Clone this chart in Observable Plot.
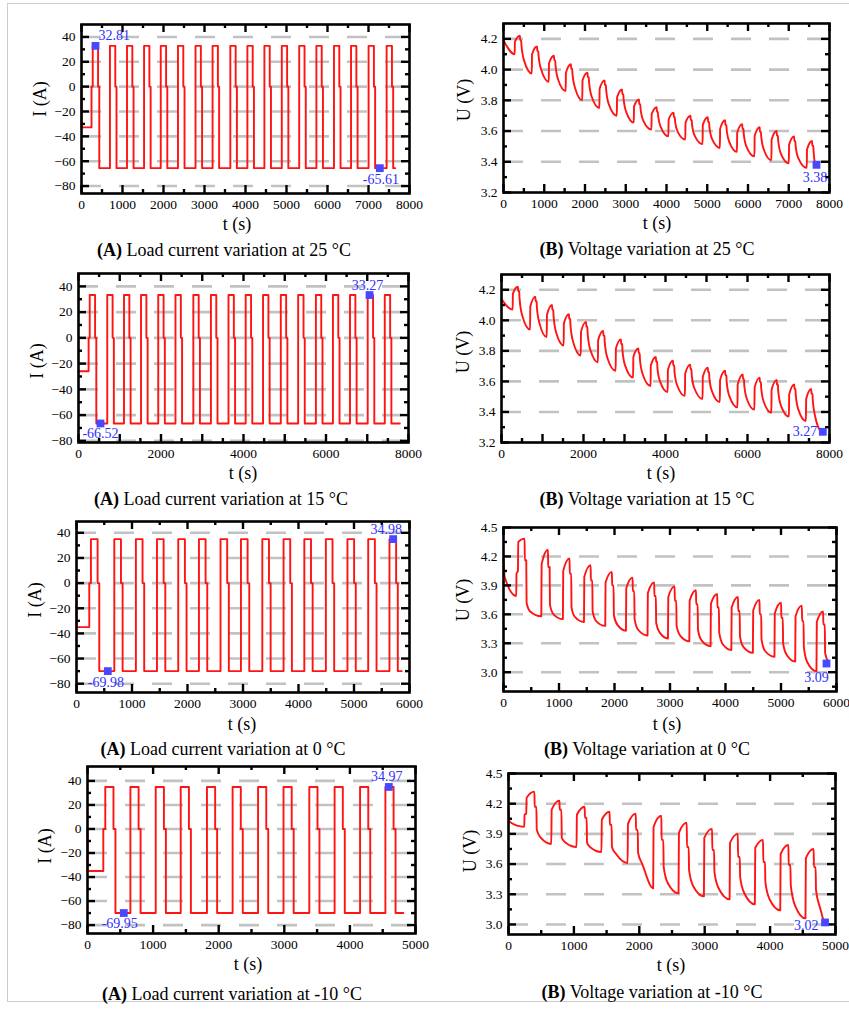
<!DOCTYPE html>
<html><head><meta charset="utf-8">
<script src="https://cdn.jsdelivr.net/npm/d3@7"></script>
<script src="https://cdn.jsdelivr.net/npm/@observablehq/plot@0.6"></script>
<style>
body{margin:0;background:#fff;}
#page{position:relative;width:849px;height:1012px;overflow:hidden;background:#fff;font-family:"Liberation Serif","Times New Roman",serif;}
#border{position:absolute;left:7px;top:3px;width:880px;height:999px;border:1.5px solid #cdcdcd;box-sizing:border-box;}
.t{position:absolute;white-space:nowrap;transform:translate(-50%,-50%);color:#000;line-height:1;}
.cap{font-size:18px;}
.ax{font-size:18px;}
.yl{transform:translate(-50%,-50%) rotate(-90deg);}
.panel{position:absolute;font-family:"Liberation Serif","Times New Roman",serif;}
.panel text{font-family:"Liberation Serif","Times New Roman",serif;}
</style></head>
<body><div id="page"><div id="border"></div></div>
<script>
// ---------------- data ----------------
const temps = ["25", "15", "0", "-10"];
const iCharge = [32.81, 33.27, 34.98, 34.97];
const iDischarge = [65.61, 66.52, 69.98, 69.95];
const chargeDur = [130, 130, 120, 125];
const restDur = [30, 30, 30, 30];
const endTime = [7650, 7790, 5860, 4815];

// cycle (charge pulse) start times, s
const cycles25 = [274, 694, 1110, 1526, 1933, 2353, 2781, 3197, 3630, 4046, 4461, 4885, 5310, 5729, 6158, 6574, 7002, 7442];
const cycles15 = [272, 697, 1103, 1516, 1933, 2351, 2784, 3210, 3636, 4053, 4474, 4904, 5325, 5755, 6168, 6582, 7011, 7425];
const cycles0 = [260, 681, 1070, 1450, 1833, 2206, 2595, 2963, 3348, 3731, 4105, 4493, 4882, 5256, 5639];
const cyclesM10 = [271, 654, 1040, 1421, 1821, 2212, 2600, 2988, 3381, 3767, 4155, 4541];

// initial part of the current profiles (time, current)
const iInitT25 = [0, 0, 244, 244], iInitV25 = [0, -32.8, -32.8, 0];
const iInitT15 = [0, 245, 245], iInitV15 = [-26, -26, 0];
const iInitT0 = [0, 0, 230, 230], iInitV0 = [0, -35, -35, 0];
const iInitTM10 = [0, 0, 241, 241], iInitVM10 = [0, -35, -35, 0];

// voltage: initial part (time, voltage)
const uInitT25 = [0], uInitV25 = [4.19];
const uInitT15 = [0], uInitV15 = [4.14];
const uInitT0 = [0, 20, 230, 234], uInitV0 = [4.18, 3.99, 3.79, 4.02];
const uInitTM10 = [0, 15, 241, 245], uInitVM10 = [4.17, 4.02, 3.97, 4.09];

// voltage per cycle: before charge, after charge step, end of charge, rest, after discharge step, early discharge
const vMin25 = [4.10, 3.975, 3.92, 3.86, 3.80, 3.75, 3.70, 3.655, 3.61, 3.565, 3.545, 3.515, 3.49, 3.465, 3.435, 3.41, 3.39, 3.36];
const vJump25 = [4.18, 4.10, 4.04, 3.98, 3.93, 3.875, 3.82, 3.76, 3.71, 3.675, 3.655, 3.64, 3.615, 3.59, 3.57, 3.545, 3.51, 3.48];
const vPeak25 = [4.22, 4.15, 4.09, 4.035, 3.98, 3.93, 3.87, 3.805, 3.755, 3.72, 3.70, 3.69, 3.67, 3.645, 3.625, 3.60, 3.565, 3.535];
const vRest25 = [4.19, 4.12, 4.06, 4.005, 3.95, 3.90, 3.84, 3.775, 3.725, 3.69, 3.67, 3.66, 3.64, 3.615, 3.595, 3.57, 3.535, 3.505];
const vDis25 = [4.16, 4.09, 4.03, 3.975, 3.92, 3.87, 3.81, 3.745, 3.695, 3.66, 3.64, 3.63, 3.61, 3.585, 3.565, 3.54, 3.505, 3.475];
const vKnee25 = [4.06, 4.00, 3.935, 3.88, 3.825, 3.775, 3.725, 3.67, 3.625, 3.595, 3.57, 3.55, 3.53, 3.50, 3.48, 3.455, 3.425, 3.42];
const vEnd25 = 3.38;

const vMin15 = [4.07, 3.94, 3.89, 3.835, 3.77, 3.725, 3.67, 3.625, 3.57, 3.53, 3.505, 3.485, 3.465, 3.43, 3.415, 3.395, 3.37, 3.34];
const vJump15 = [4.175, 4.09, 4.035, 3.98, 3.925, 3.87, 3.815, 3.76, 3.705, 3.675, 3.65, 3.63, 3.61, 3.58, 3.56, 3.545, 3.515, 3.485];
const vPeak15 = [4.22, 4.155, 4.10, 4.04, 3.99, 3.93, 3.875, 3.815, 3.76, 3.735, 3.71, 3.69, 3.67, 3.645, 3.625, 3.61, 3.58, 3.55];
const vRest15 = [4.19, 4.125, 4.07, 4.01, 3.96, 3.90, 3.845, 3.785, 3.73, 3.705, 3.68, 3.66, 3.64, 3.615, 3.595, 3.58, 3.55, 3.52];
const vDis15 = [4.15, 4.085, 4.03, 3.97, 3.92, 3.86, 3.805, 3.745, 3.69, 3.665, 3.64, 3.62, 3.60, 3.575, 3.555, 3.54, 3.51, 3.48];
const vKnee15 = [4.035, 3.98, 3.92, 3.86, 3.81, 3.755, 3.705, 3.65, 3.60, 3.575, 3.555, 3.535, 3.505, 3.485, 3.465, 3.445, 3.415, 3.365];
const vEnd15 = 3.27;

const vMin0 = [4.05, 3.58, 3.55, 3.52, 3.48, 3.43, 3.38, 3.35, 3.32, 3.27, 3.23, 3.20, 3.16, 3.11, 3.01];
const vJump0 = [4.35, 4.12, 4.05, 3.99, 3.93, 3.87, 3.82, 3.78, 3.74, 3.71, 3.67, 3.64, 3.61, 3.58, 3.52];
const vPeak0 = [4.385, 4.27, 4.18, 4.11, 4.04, 3.98, 3.93, 3.89, 3.85, 3.81, 3.78, 3.75, 3.72, 3.69, 3.63];
const vRest0 = [4.16, 4.09, 4.02, 3.95, 3.90, 3.84, 3.79, 3.74, 3.705, 3.67, 3.635, 3.60, 3.565, 3.53, 3.495];
const vDis0 = [3.72, 3.70, 3.67, 3.63, 3.59, 3.55, 3.51, 3.48, 3.44, 3.41, 3.37, 3.34, 3.30, 3.26, 3.20];
const vKnee0 = [3.63, 3.60, 3.57, 3.53, 3.49, 3.44, 3.41, 3.38, 3.33, 3.29, 3.26, 3.22, 3.18, 3.10, 3.13];
const vEnd0 = 3.10;

const vMinM10 = [4.10, 3.80, 3.77, 3.72, 3.61, 3.36, 3.31, 3.28, 3.25, 3.20, 3.14, 3.06];
const vJumpM10 = [4.26, 4.14, 4.09, 4.04, 4.00, 3.97, 3.91, 3.86, 3.81, 3.76, 3.70, 3.66];
const vPeakM10 = [4.32, 4.23, 4.17, 4.12, 4.10, 4.08, 4.01, 3.95, 3.90, 3.84, 3.79, 3.75];
const vRestM10 = [4.17, 4.14, 4.06, 3.99, 3.94, 3.84, 3.77, 3.74, 3.67, 3.62, 3.59, 3.57];
const vDisM10 = [3.94, 3.86, 3.81, 3.77, 3.71, 3.57, 3.54, 3.52, 3.47, 3.42, 3.39, 3.34];
const vKneeM10 = [3.86, 3.81, 3.76, 3.70, 3.60, 3.41, 3.38, 3.36, 3.31, 3.25, 3.19, 3.16];
const vEndM10 = 3.04;

// annotated points
const markI25 = [{t: 341, v: 32.81, s: "32.81"}, {t: 7276, v: -65.61, s: "-65.61"}];
const markI15 = [{t: 7055, v: 33.27, s: "33.27"}, {t: 533, v: -66.52, s: "-66.52"}];
const markI0 = [{t: 5706, v: 34.98, s: "34.98"}, {t: 564, v: -69.98, s: "-69.98"}];
const markIM10 = [{t: 4593, v: 34.97, s: "34.97"}, {t: 553, v: -69.95, s: "-69.95"}];
const markU25 = [{t: 7681, v: 3.38, s: "3.38"}];
const markU15 = [{t: 7837, v: 3.27, s: "3.27"}];
const markU0 = [{t: 5820, v: 3.09, s: "3.09"}];
const markUM10 = [{t: 4840, v: 3.02, s: "3.02"}];

// ticks
const iTicks = [-80, -60, -40, -20, 0, 20, 40];
const iMinor = [-70, -50, -30, -10, 10, 30];
const uTicksA = [3.2, 3.4, 3.6, 3.8, 4.0, 4.2];
const uMinorA = [3.3, 3.5, 3.7, 3.9, 4.1];
const uTicksB = [3.0, 3.3, 3.6, 3.9, 4.2, 4.5];
const uMinorB0 = [2.85, 3.15, 3.45, 3.75, 4.05, 4.35];
const uMinorB10 = [3.15, 3.45, 3.75, 4.05, 4.35];
const tLab8000 = [0, 1000, 2000, 3000, 4000, 5000, 6000, 7000, 8000];
const tLab8000b = [0, 2000, 4000, 6000, 8000];
const tLab6000 = [0, 1000, 2000, 3000, 4000, 5000, 6000];
const tLab5000 = [0, 1000, 2000, 3000, 4000, 5000];

// ---------------- builders ----------------
function currentPts(cyc, ich, idis, cd, rd, initT, initV, tEnd) {
  const pts = initT.map((t, i) => ({t, v: initV[i]}));
  cyc.forEach(t => {
    const last = pts[pts.length - 1].v;
    pts.push({t, v: last}, {t, v: ich}, {t: t + cd, v: ich}, {t: t + cd, v: 0},
             {t: t + cd + rd, v: 0}, {t: t + cd + rd, v: -idis});
  });
  pts.push({t: tEnd, v: -idis});
  return pts;
}
function voltagePts(cyc, cd, rd, initT, initV, a, tEnd, vEnd) {
  const pts = initT.map((t, i) => ({t, v: initV[i]}));
  cyc.forEach((t, k) => {
    [[t, a.min[k]], [t + 6, a.jump[k]], [t + cd, a.peak[k]], [t + cd + 4, a.rest[k]],
     [t + cd + rd, a.rest[k]], [t + cd + rd + 6, a.dis[k]], [t + cd + rd + 70, a.knee[k]]]
      .forEach(([tt, v]) => { if (tt < tEnd - 4) pts.push({t: tt, v}); });
  });
  pts.push({t: tEnd, v: vEnd});
  return pts;
}
function halves(ticks) {
  const out = [];
  for (let i = 0; i < ticks.length - 1; i++) out.push((ticks[i] + ticks[i + 1]) / 2);
  return out;
}

const FONT = '"Liberation Serif","Times New Roman",Times,serif';
const ML = 70, MR = 14, MT = 14, MB = 40;
const FS = 13.5;
const page = document.getElementById("page");

function panel(cfg, labels) {
  const {fx, fy, fw, fh, xdom, ydom, data, curve, xLab, xMajor, xMinor, yLab, yMajor, yMinor, grid, yfmt} = cfg;
  const W = fw + ML + MR, H = fh + MT + MB;
  const L1 = 8, L2 = 4;
  const tk = {stroke: "#000", strokeWidth: 2.4};
  const labelMarks = [];
  labels.forEach(l => {
    labelMarks.push(Plot.dot([l], {x: "t", y: "v", symbol: "square", r: 4.4, fill: "#4848ff"}));
    labelMarks.push(Plot.text([l], {x: "t", y: "v", text: "s", fill: "#3030ff", fontSize: 14,
      fontFamily: FONT, dx: l.dx, dy: l.dy, textAnchor: l.anchor}));
  });
  const chart = Plot.plot({
    width: W, height: H, marginLeft: ML, marginRight: MR, marginTop: MT, marginBottom: MB,
    x: {domain: xdom}, y: {domain: ydom},
    style: {fontFamily: FONT, fontSize: FS + "px", background: "transparent", color: "#000", overflow: "visible"},
    marks: [
      Plot.ruleY(grid, {y: d => d, stroke: "#c2c2c2", strokeWidth: 2.6, strokeDasharray: "20,18"}),
      Plot.line(data, {x: "t", y: "v", stroke: "#ff1414", strokeWidth: 1.9, curve}),
      Plot.tickX(xMajor, {x: d => d, ...tk, insetTop: fh - L1}),
      Plot.tickX(xMajor, {x: d => d, ...tk, insetBottom: fh - L1}),
      Plot.tickX(xMinor, {x: d => d, ...tk, insetTop: fh - L2}),
      Plot.tickX(xMinor, {x: d => d, ...tk, insetBottom: fh - L2}),
      Plot.tickY(yMajor, {y: d => d, ...tk, insetRight: fw - L1}),
      Plot.tickY(yMajor, {y: d => d, ...tk, insetLeft: fw - L1}),
      Plot.tickY(yMinor, {y: d => d, ...tk, insetRight: fw - L2}),
      Plot.tickY(yMinor, {y: d => d, ...tk, insetLeft: fw - L2}),
      Plot.frame({stroke: "#000", strokeWidth: 2.6}),
      Plot.axisX({ticks: xLab, tickSize: 0, tickPadding: 6, tickFormat: d3.format("d"), label: null,
        fontSize: FS, fontFamily: FONT}),
      Plot.axisY({ticks: yLab, tickSize: 0, tickPadding: 6, tickFormat: yfmt, label: null,
        fontSize: FS, fontFamily: FONT}),
      ...labelMarks
    ]
  });
  chart.classList.add("panel");
  chart.style.left = (fx - ML) + "px";
  chart.style.top = (fy - MT) + "px";
  page.appendChild(chart);
}

const fmtI = d3.format("d"), fmt1 = d3.format(".1f");

const sets = [
  {cyc: cycles25, iInitT: iInitT25, iInitV: iInitV25, uInitT: uInitT25, uInitV: uInitV25,
   u: {min: vMin25, jump: vJump25, peak: vPeak25, rest: vRest25, dis: vDis25, knee: vKnee25}, vEnd: vEnd25},
  {cyc: cycles15, iInitT: iInitT15, iInitV: iInitV15, uInitT: uInitT15, uInitV: uInitV15,
   u: {min: vMin15, jump: vJump15, peak: vPeak15, rest: vRest15, dis: vDis15, knee: vKnee15}, vEnd: vEnd15},
  {cyc: cycles0, iInitT: iInitT0, iInitV: iInitV0, uInitT: uInitT0, uInitV: uInitV0,
   u: {min: vMin0, jump: vJump0, peak: vPeak0, rest: vRest0, dis: vDis0, knee: vKnee0}, vEnd: vEnd0},
  {cyc: cyclesM10, iInitT: iInitTM10, iInitV: iInitVM10, uInitT: uInitTM10, uInitV: uInitVM10,
   u: {min: vMinM10, jump: vJumpM10, peak: vPeakM10, rest: vRestM10, dis: vDisM10, knee: vKneeM10}, vEnd: vEndM10}
];
const curData = sets.map((s, k) => currentPts(s.cyc, iCharge[k], iDischarge[k], chargeDur[k], restDur[k], s.iInitT, s.iInitV, endTime[k]));
const volData = sets.map((s, k) => voltagePts(s.cyc, chargeDur[k], restDur[k], s.uInitT, s.uInitV, s.u, endTime[k], s.vEnd));

// layout of frames [left, top, width, height]
const frames = [
  [81, 24, 328, 169], [503, 23, 326, 169],
  [78, 273, 330, 169], [501, 274, 328, 168],
  [76, 521, 333, 171], [503, 527, 333, 164],
  [87, 766, 328, 167], [508, 773, 327, 161]
];
const iDom = [[-86, 50], [-81.3, 50], [-87, 49], [-87, 52]];
const uDom = [[3.2, 4.3], [3.2, 4.3], [2.8, 4.5], [2.9, 4.5]];
const xDom = [[0, 8000], [0, 8000], [0, 6000], [0, 5000]];
const xLabs = [tLab8000, tLab8000b, tLab6000, tLab5000];
const xMaj = [tLab8000, tLab8000, tLab6000, tLab5000];
const iMarks = [markI25, markI15, markI0, markIM10];
const uMarks = [markU25, markU15, markU0, markUM10];
const iOffs = [[[3, -10.5, "start"], [1, 11.5, "middle"]], [[-2, -10, "middle"], [0, 10.5, "middle"]],
               [[-7, -10, "middle"], [-2, 11, "middle"]], [[-2, -10, "middle"], [-4, 11, "middle"]]];
const uOffs = [[[-1.5, 12.5, "middle"]], [[-5.5, 0, "end"]], [[-10, 14, "middle"]], [[-6.5, 3, "end"]]];

for (let k = 0; k < 4; k++) {
  const fa = frames[2 * k], fb = frames[2 * k + 1];
  panel({fx: fa[0], fy: fa[1], fw: fa[2], fh: fa[3], xdom: xDom[k], ydom: iDom[k],
    data: curData[k], curve: "linear", xLab: xLabs[k], xMajor: xMaj[k], xMinor: halves(xMaj[k]),
    yLab: iTicks, yMajor: iTicks, yMinor: iMinor, grid: iTicks, yfmt: fmtI},
    iMarks[k].map((m, i) => ({...m, dx: iOffs[k][i][0], dy: iOffs[k][i][1], anchor: iOffs[k][i][2]})));
  const uLab = k < 2 ? uTicksA : uTicksB;
  const uMin = k < 2 ? uMinorA : (k === 2 ? uMinorB0 : uMinorB10);
  const uGrid = k < 2 ? [3.4, 3.6, 3.8, 4.0, 4.2] : [3.0, 3.3, 3.6, 3.9, 4.2];
  panel({fx: fb[0], fy: fb[1], fw: fb[2], fh: fb[3], xdom: xDom[k], ydom: uDom[k],
    data: volData[k], curve: "monotone-x", xLab: xLabs[k], xMajor: xMaj[k], xMinor: halves(xMaj[k]),
    yLab: uLab, yMajor: uLab, yMinor: uMin, grid: uGrid, yfmt: fmt1},
    uMarks[k].map((m, i) => ({...m, dx: uOffs[k][i][0], dy: uOffs[k][i][1], anchor: uOffs[k][i][2]})));
}

// ---------------- texts ----------------
const texts = [
  ["ax", 237, 224, "t (s)"], ["ax yl", 40, 99, "I (A)"], ["cap", 224, 250, "<b>(A)</b> Load current variation at 25 °C"],
  ["ax", 657, 223, "t (s)"], ["ax yl", 464, 100, "U (V)"], ["cap", 647, 249, "<b>(B)</b> Voltage variation at 25 °C"],
  ["ax", 243, 473, "t (s)"], ["ax yl", 37, 361, "I (A)"], ["cap", 221, 499, "<b>(A)</b> Load current variation at 15 °C"],
  ["ax", 661, 473, "t (s)"], ["ax yl", 463, 352, "U (V)"], ["cap", 647, 499, "<b>(B)</b> Voltage variation at 15 °C"],
  ["ax", 242, 724, "t (s)"], ["ax yl", 35, 600, "I (A)"], ["cap", 223, 749, "<b>(A)</b> Load current variation at 0 °C"],
  ["ax", 667, 724, "t (s)"], ["ax yl", 463, 600, "U (V)"], ["cap", 647, 749, "<b>(B)</b> Voltage variation at 0 °C"],
  ["ax", 248, 964, "t (s)"], ["ax yl", 45, 846, "I (A)"], ["cap", 232, 994, "<b>(A)</b> Load current variation at -10 °C"],
  ["ax", 671, 965, "t (s)"], ["ax yl", 470, 851, "U (V)"], ["cap", 652, 992, "<b>(B)</b> Voltage variation at -10 °C"]
];
texts.forEach(([cls, x, y, html]) => {
  const d = document.createElement("div");
  d.className = "t " + cls;
  d.style.left = x + "px"; d.style.top = y + "px";
  d.innerHTML = html;
  page.appendChild(d);
});
</script>
</body></html>
